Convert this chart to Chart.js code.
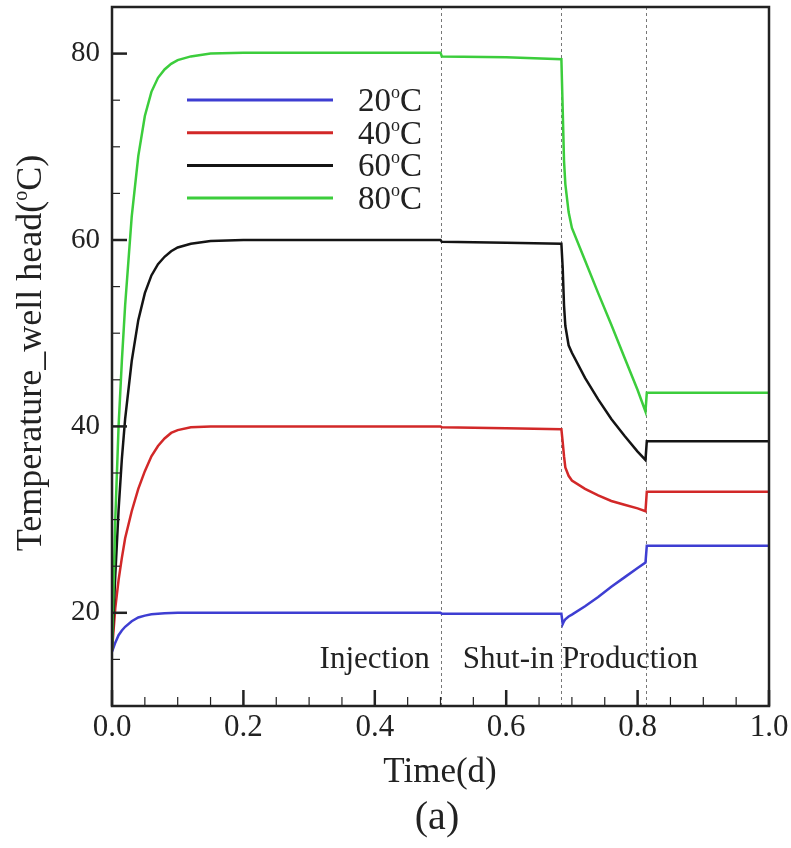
<!DOCTYPE html>
<html>
<head>
<meta charset="utf-8">
<script src="https://cdn.jsdelivr.net/npm/chart.js@4.4.0/dist/chart.umd.min.js"></script>
<style>
html, body { margin: 0; padding: 0; background: #fff; }
#wrap { width: 791px; height: 848px; position: relative; }
</style>
</head>
<body>
<div id="wrap"><canvas id="temp_well_head"></canvas></div>
<script>
// time (d)
const tiempo = [0, 0.005, 0.01, 0.015, 0.02, 0.03, 0.04, 0.05, 0.06, 0.07, 0.08, 0.09, 0.10, 0.12, 0.15, 0.2, 0.3, 0.4, 0.5, 0.502, 0.6, 0.684, 0.686, 0.688, 0.69, 0.695, 0.70, 0.72, 0.74, 0.76, 0.78, 0.80, 0.812, 0.814, 0.9, 1.0];

// temperature at well head for each injection temperature
const temp_20 = [15.8, 16.8, 17.6, 18.1, 18.5, 19.1, 19.5, 19.7, 19.85, 19.9, 19.95, 19.97, 20.0, 20.0, 20.0, 20.0, 20.0, 20.0, 20.0, 19.9, 19.9, 19.9, 18.8, 19.1, 19.3, 19.6, 19.8, 20.7, 21.7, 22.8, 23.8, 24.8, 25.4, 27.2, 27.2, 27.2];
const temp_40 = [16, 20.5, 23.5, 25.9, 28.0, 30.9, 33.3, 35.2, 36.8, 37.9, 38.7, 39.3, 39.6, 39.9, 40.0, 40.0, 40.0, 40.0, 40.0, 39.9, 39.8, 39.7, 38.3, 36.8, 35.6, 34.7, 34.2, 33.3, 32.6, 32.0, 31.6, 31.2, 30.9, 33.0, 33.0, 33.0];
const temp_60 = [16, 24, 31, 36.5, 40.8, 47.0, 51.4, 54.3, 56.2, 57.4, 58.2, 58.8, 59.2, 59.6, 59.9, 60.0, 60.0, 60.0, 60.0, 59.8, 59.7, 59.6, 57, 53, 50.8, 48.7, 47.9, 45.2, 42.9, 40.8, 39.0, 37.3, 36.4, 38.4, 38.4, 38.4];
const temp_80 = [16, 30, 40, 47, 53, 62.5, 69, 73.3, 75.9, 77.4, 78.3, 78.9, 79.3, 79.7, 80.0, 80.1, 80.1, 80.1, 80.1, 79.7, 79.6, 79.4, 74, 68.5, 66, 63, 61.3, 57.8, 54.3, 50.9, 47.4, 43.9, 41.6, 43.6, 43.6, 43.6];

const nombres = ['20', '40', '60', '80'];
const colores = ['rgb(62,62,210)', 'rgb(210,40,40)', 'rgb(20,20,20)', 'rgb(60,205,60)'];

const eje_x = [0, 0.2, 0.4, 0.6, 0.8, 1.0];
const eje_y = [20, 40, 60, 80];

// phase boundaries and names
const cortes = [0.5, 0.684, 0.813];
const fases = ['Injection', 'Shut-in Production'];

const serif = '"Liberation Serif", "Times New Roman", serif';

function puntos(serie) {
    return tiempo.map((t, i) => ({x: t, y: serie[i]}));
}

// draws "antes" + superscript o + "despues", returns width
function texto_grado(ctx, antes, despues, x, y, size, medir) {
    const chico = Math.round(size * 0.55);
    ctx.font = size + 'px ' + serif;
    const w1 = ctx.measureText(antes).width;
    const w3 = ctx.measureText(despues).width;
    ctx.font = chico + 'px ' + serif;
    const w2 = ctx.measureText('o').width;
    if (!medir) {
        ctx.font = size + 'px ' + serif;
        ctx.fillText(antes, x, y);
        ctx.font = chico + 'px ' + serif;
        ctx.fillText('o', x + w1, y - size * 0.4);
        ctx.font = size + 'px ' + serif;
        ctx.fillText(despues, x + w1 + w2, y);
    }
    return w1 + w2 + w3;
}

const fondo = {
    id: 'fondo',
    beforeDatasetsDraw(chart) {
        const {ctx, chartArea: a, scales: {x}} = chart;
        ctx.save();
        ctx.strokeStyle = '#777';
        ctx.lineWidth = 1;
        ctx.setLineDash([3, 3]);
        cortes.forEach(c => {
            const px = Math.round(x.getPixelForValue(c)) + 0.5;
            ctx.beginPath();
            ctx.moveTo(px, a.top);
            ctx.lineTo(px, a.bottom);
            ctx.stroke();
        });
        ctx.restore();
    }
};

const marco = {
    id: 'marco',
    afterDraw(chart) {
        const {ctx, chartArea: a, scales: {x, y}} = chart;
        ctx.save();
        ctx.fillStyle = '#222';
        ctx.strokeStyle = '#222';

        // inward ticks
        ctx.lineCap = 'butt';
        for (let v = 0; v <= 1.0001; v += 0.05) {
            const px = x.getPixelForValue(v);
            const mayor = Math.abs(v * 5 - Math.round(v * 5)) < 1e-6;
            ctx.lineWidth = mayor ? 2.5 : 1.2;
            ctx.beginPath();
            ctx.moveTo(px, a.bottom);
            ctx.lineTo(px, a.bottom - (mayor ? 16 : 9));
            ctx.stroke();
        }
        for (let v = 15; v <= 85; v += 5) {
            const py = y.getPixelForValue(v);
            const mayor = v % 20 === 0;
            ctx.lineWidth = mayor ? 2.5 : 1.2;
            ctx.beginPath();
            ctx.moveTo(a.left, py);
            ctx.lineTo(a.left + (mayor ? 15 : 8), py);
            ctx.stroke();
        }

        // frame
        ctx.lineWidth = 2.5;
        ctx.strokeRect(a.left, a.top, a.right - a.left, a.bottom - a.top);

        // phase labels
        ctx.font = '31px ' + serif;
        ctx.textBaseline = 'alphabetic';
        ctx.textAlign = 'left';
        ctx.fillText(fases[0], x.getPixelForValue(0.316), 668);
        ctx.fillText(fases[1], x.getPixelForValue(0.534), 668);

        // legend
        chart.data.datasets.forEach((ds, i) => {
            const ly = a.top + 93 + i * 32.7;
            ctx.strokeStyle = ds.borderColor;
            ctx.lineWidth = 3;
            ctx.beginPath();
            ctx.moveTo(a.left + 75, ly);
            ctx.lineTo(a.left + 221, ly);
            ctx.stroke();
            ctx.fillStyle = '#222';
            texto_grado(ctx, nombres[i], 'C', a.left + 246, ly + 11, 33);
        });

        // y title
        ctx.save();
        ctx.translate(41, 353);
        ctx.rotate(-Math.PI / 2);
        const tw = texto_grado(ctx, 'Temperature_well head(', 'C)', 0, 0, 36, true);
        texto_grado(ctx, 'Temperature_well head(', 'C)', -tw / 2, 0, 36);
        ctx.restore();

        // x title and panel tag
        ctx.textAlign = 'center';
        ctx.textBaseline = 'middle';
        ctx.font = '35px ' + serif;
        ctx.fillText('Time(d)', 440, 773);
        ctx.font = '40px ' + serif;
        ctx.fillText('(a)', 437, 818);
        ctx.restore();
    }
};

const temp_grafico = document.getElementById('temp_well_head').getContext('2d');
const graf_temp = new Chart(temp_grafico, {
    type: 'line',
    data: {
        datasets: [temp_20, temp_40, temp_60, temp_80].map((serie, i) => ({
            label: nombres[i] + '°C',
            data: puntos(serie),
            borderColor: colores[i],
            backgroundColor: colores[i],
            borderWidth: 2.5,
            pointRadius: 0,
            tension: 0,
            order: 3 - i
        }))
    },
    options: {
        responsive: true,
        maintainAspectRatio: false,
        animation: false,
        layout: {padding: {top: 7, right: 22, left: 0, bottom: 0}},
        plugins: {legend: {display: false}, tooltip: {enabled: false}},
        scales: {
            x: {
                type: 'linear', min: 0, max: 1,
                grid: {display: false, drawTicks: false},
                border: {display: false},
                afterFit(s) { s.height = 142; s.paddingLeft = 0; s.paddingRight = 0; },
                afterBuildTicks(s) { s.ticks = eje_x.map(v => ({value: v})); },
                ticks: {
                    padding: 3, color: '#222', maxRotation: 0, autoSkip: false,
                    font: {family: serif, size: 31},
                    callback: v => v.toFixed(1)
                }
            },
            y: {
                type: 'linear', min: 10, max: 85,
                grid: {display: false, drawTicks: false},
                border: {display: false},
                afterFit(s) { s.width = 112; s.paddingTop = 0; s.paddingBottom = 0; },
                afterBuildTicks(s) { s.ticks = eje_y.map(v => ({value: v})); },
                ticks: {
                    padding: 12, color: '#222',
                    font: {family: serif, size: 29},
                    callback: v => String(v)
                }
            }
        }
    },
    plugins: [fondo, marco]
});
</script>
</body>
</html>
